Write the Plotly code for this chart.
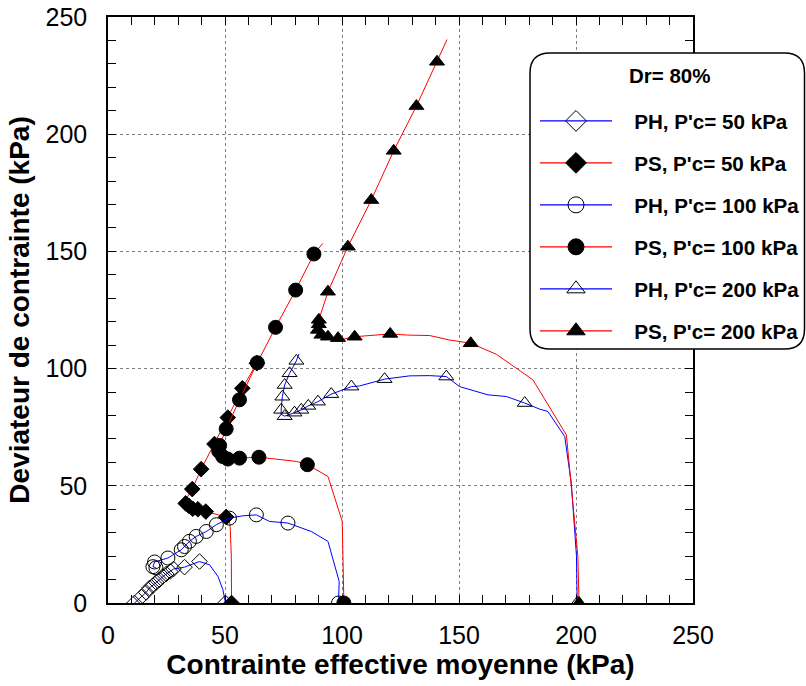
import plotly.graph_objects as go

# ---------------- data (p' kPa, q kPa) ----------------
ph50_line_p = [50.2, 49.1, 47.0, 43.4, 39.1, 32.7, 28.0, 26.6, 24.9, 23.4, 22.0, 20.6, 19.2, 17.7, 16.3, 14.2, 11.3]
ph50_line_q = [0.0, 5.7, 11.3, 16.3, 17.7, 15.3, 14.5, 13.5, 12.4, 11.3, 9.9, 8.8, 7.4, 6.4, 4.5, 2.6, 0.0]
ph50_mark_p = [50.2, 39.1, 32.7, 28.0, 26.6, 24.9, 23.4, 22.0, 20.6, 19.2, 17.7, 16.3, 14.2, 11.3]
ph50_mark_q = [0.0, 17.7, 15.3, 14.5, 13.5, 12.4, 11.3, 9.9, 8.8, 7.4, 6.4, 4.5, 2.6, 0.0]

ps50_line_p = [52.8, 52.7, 52.2, 51.7, 50.5, 45.5, 41.8, 38.4, 36.2, 34.5, 33.2, 33.5, 36.0, 39.8, 45.5, 51.2, 57.4, 63.6]
ps50_line_q = [0.0, 20.0, 32.7, 35.8, 36.7, 38.0, 39.0, 40.0, 40.2, 41.5, 42.5, 44.5, 48.6, 57.1, 67.8, 79.1, 91.6, 102.3]
ps50_mark_p = [52.8, 50.5, 41.8, 38.4, 36.2, 34.5, 33.2, 36.0, 39.8, 45.5, 51.2, 57.4, 63.6]
ps50_mark_q = [0.0, 36.7, 39.0, 40.0, 40.2, 41.5, 42.5, 48.6, 57.1, 67.8, 79.1, 91.6, 102.3]

ph100_line_p = [98.5, 98.8, 94.0, 86.9, 76.9, 69.0, 63.4, 57.6, 51.9, 46.3, 42.0, 37.7, 34.8, 32.7, 31.3, 25.6, 19.9, 19.2, 20.5]
ph100_line_q = [0.0, 9.2, 26.3, 30.5, 34.1, 34.8, 37.6, 37.2, 36.2, 33.4, 30.5, 28.4, 26.3, 24.1, 22.7, 19.2, 17.5, 15.5, 15.0]
ph100_mark_p = [98.5, 76.9, 63.4, 51.9, 46.3, 42.0, 37.7, 34.8, 32.7, 31.3, 25.6, 19.9, 19.2, 20.5]
ph100_mark_q = [0.0, 34.1, 37.6, 36.2, 33.4, 30.5, 28.4, 26.3, 24.1, 22.7, 19.2, 17.5, 15.5, 15.0]

ps100_line_p = [100.8, 100.4, 100.1, 94.0, 85.2, 80.5, 69.0, 64.5, 56.2, 51.2, 49.0, 47.3, 47.7, 50.5, 56.2, 63.8, 71.6, 80.2, 88.0, 91.8]
ps100_line_q = [0.0, 15.0, 34.8, 54.0, 59.0, 60.4, 61.5, 62.2, 61.8, 61.4, 62.5, 64.8, 67.2, 74.3, 86.7, 102.5, 117.6, 133.5, 148.9, 153.4]
ps100_mark_p = [100.8, 85.2, 64.5, 56.2, 51.2, 49.0, 47.3, 47.7, 50.5, 56.2, 63.8, 71.6, 80.2, 88.0]
ps100_mark_q = [0.0, 59.0, 62.2, 61.8, 61.4, 62.5, 64.8, 67.2, 74.3, 86.7, 102.5, 117.6, 133.5, 148.9]

ph200_line_p = [200.5, 200.2, 198.0, 195.2, 188.0, 184.5, 178.1, 170.2, 162.4, 150.3, 144.6, 137.5, 128.9, 118.2, 107.5, 104.0, 95.4, 89.7, 85.6, 82.6, 79.7, 75.5, 74.0, 74.0, 74.5, 75.5, 77.6, 80.5, 81.6]
ph200_line_q = [0.0, 20.0, 51.0, 71.0, 81.7, 82.7, 85.3, 88.1, 88.8, 92.3, 96.6, 97.0, 96.9, 95.5, 92.6, 92.3, 89.1, 85.9, 84.1, 82.4, 81.2, 79.7, 80.5, 82.4, 88.0, 93.0, 98.0, 103.3, 106.3]
ph200_mark_p = [200.5, 178.1, 144.6, 118.2, 104.0, 95.4, 89.7, 85.6, 82.6, 79.7, 75.5, 74.0, 74.5, 75.5, 77.6, 80.5]
ph200_mark_q = [0.0, 85.3, 96.6, 95.5, 92.3, 89.1, 85.9, 84.1, 82.4, 81.2, 79.7, 82.4, 88.0, 93.0, 98.0, 103.3]

ps200_line_p = [201.3, 200.8, 195.9, 181.6, 166.0, 155.0, 146.0, 137.5, 128.0, 120.6, 105.4, 100.4, 98.3, 94.0, 91.2, 89.7, 90.1, 90.1, 94.0, 102.5, 112.5, 122.1, 131.8, 140.6, 144.9]
ps200_line_q = [0.0, 20.0, 71.7, 95.2, 106.1, 110.8, 112.2, 114.1, 114.3, 114.8, 113.6, 112.5, 113.0, 113.6, 114.4, 116.5, 118.9, 120.8, 132.8, 152.0, 171.9, 192.9, 212.0, 230.9, 240.4]
ps200_mark_p = [201.3, 155.0, 120.6, 105.4, 98.3, 94.0, 91.2, 89.7, 90.1, 90.1, 94.0, 102.5, 112.5, 122.1, 131.8, 140.6]
ps200_mark_q = [0.0, 110.8, 114.8, 113.6, 113.0, 113.6, 114.4, 116.5, 118.9, 120.8, 132.8, 152.0, 171.9, 192.9, 212.0, 230.9]

series_names = ["PH, P'c= 50 kPa", "PS, P'c= 50 kPa", "PH, P'c= 100 kPa",
                "PS, P'c= 100 kPa", "PH, P'c= 200 kPa", "PS, P'c= 200 kPa"]
legend_title = "Dr= 80%"
x_title = "Contrainte effective moyenne (kPa)"
y_title = "Deviateur de contrainte (kPa)"
tick_vals = [0, 50, 100, 150, 200, 250]

BLUE = "#0000FF"
RED = "#FF0000"
FONT = "Liberation Sans, Arial, sans-serif"
NBSP = "\u00a0"

series = [
    (ph50_line_p, ph50_line_q, ph50_mark_p, ph50_mark_q, BLUE, "diamond-open", 12),
    (ps50_line_p, ps50_line_q, ps50_mark_p, ps50_mark_q, RED, "diamond", 12),
    (ph100_line_p, ph100_line_q, ph100_mark_p, ph100_mark_q, BLUE, "circle-open", 14),
    (ps100_line_p, ps100_line_q, ps100_mark_p, ps100_mark_q, RED, "circle", 14),
    (ph200_line_p, ph200_line_q, ph200_mark_p, ph200_mark_q, BLUE, "triangle-up-open", 13),
    (ps200_line_p, ps200_line_q, ps200_mark_p, ps200_mark_q, RED, "triangle-up", 13),
]

fig = go.Figure()
for i, (lp, lq, mp, mq, col, sym, sz) in enumerate(series):
    grp = f"g{i}"
    fig.add_trace(go.Scatter(x=lp, y=lq, mode="lines", line=dict(color=col, width=1),
                             legendgroup=grp, showlegend=False, hoverinfo="skip"))
    mk = dict(symbol=sym, size=sz, color="black", line=dict(color="black", width=1))
    fig.add_trace(go.Scatter(x=mp, y=mq, mode="markers", marker=mk,
                             legendgroup=grp, showlegend=False, name=series_names[i]))
    # legend entry (no data) on the mirrored axes, so those axes are drawn
    fig.add_trace(go.Scatter(x=[None], y=[None], xaxis="x2", yaxis="y2",
                             mode="lines+markers", name=NBSP * 3 + series_names[i],
                             line=dict(color=col, width=1.2),
                             marker=dict(symbol=sym, size=16, color="black",
                                         line=dict(color="black", width=1)),
                             legendgroup=grp, showlegend=True))

axis_common = dict(
    range=[0, 250], tickvals=tick_vals, ticks="inside", ticklen=8, tickwidth=1.2,
    tickcolor="black", showline=True, linecolor="black", linewidth=1.5, mirror=True,
    showgrid=True, gridcolor="#7f7f7f", griddash="dot", gridwidth=1, zeroline=False,
    minor=dict(dtick=10, ticks="inside", ticklen=8, tickwidth=1.2, tickcolor="black", showgrid=False),
    tickfont=dict(family=FONT, size=25, color="black"),
)
mirror_common = dict(
    range=[0, 250], dtick=10, tick0=0, ticks="inside", ticklen=8, tickwidth=1.2,
    tickcolor="black", showticklabels=False, showgrid=False, zeroline=False, showline=False,
)

fig.update_layout(
    xaxis=dict(**axis_common, ticklabelstandoff=9,
               title=dict(text=x_title, font=dict(family=FONT, size=28, color="black", weight="bold"),
                          standoff=0)),
    yaxis=dict(**axis_common, ticklabelstandoff=14,
               title=dict(text=y_title, font=dict(family=FONT, size=28, color="black", weight="bold"),
                          standoff=8)),
    xaxis2=dict(**mirror_common, overlaying="x", side="top", anchor="y2"),
    yaxis2=dict(**mirror_common, overlaying="y", side="right", anchor="x2"),
)

# rounded legend frame (paper coordinates)
L, R, T, B = 108.0, 113.0, 17.0, 83.0
W, H = 806 - L - R, 686 - T - B
def px2paper(px, py):
    return (px - L) / W, (686 - B - py) / H
x0, y1 = px2paper(530, 53)
x1, y0 = px2paper(804.5, 349)
rx = 20 / W
ry = 20 / H
path = (f"M {x0+rx},{y1} L {x1-rx},{y1} Q {x1},{y1} {x1},{y1-ry} L {x1},{y0+ry} "
        f"Q {x1},{y0} {x1-rx},{y0} L {x0+rx},{y0} Q {x0},{y0} {x0},{y0+ry} "
        f"L {x0},{y1-ry} Q {x0},{y1} {x0+rx},{y1} Z")
fig.add_shape(type="path", path=path, xref="paper", yref="paper",
              line=dict(color="black", width=1.5), fillcolor="white", layer="above")

tx, ty = px2paper(669.5, 75)
fig.add_annotation(text=legend_title, x=tx, y=ty, xref="paper", yref="paper",
                   xanchor="center", yanchor="middle", showarrow=False,
                   font=dict(family=FONT, size=20.5, color="black", weight="bold"))

lx, ly = px2paper(535, 101)
fig.update_layout(
    width=806, height=686,
    margin=dict(l=L, r=R, t=T, b=B, autoexpand=False),
    plot_bgcolor="white", paper_bgcolor="white",
    font=dict(family=FONT, color="black"),
    showlegend=True,
    legend=dict(x=lx, y=ly, xanchor="left", yanchor="top", bgcolor="rgba(0,0,0,0)",
                borderwidth=0, itemwidth=72, traceorder="grouped", tracegroupgap=12.2,
                font=dict(family=FONT, size=20.6, color="black", weight="bold")),
)

fig.write_html("out.html")
